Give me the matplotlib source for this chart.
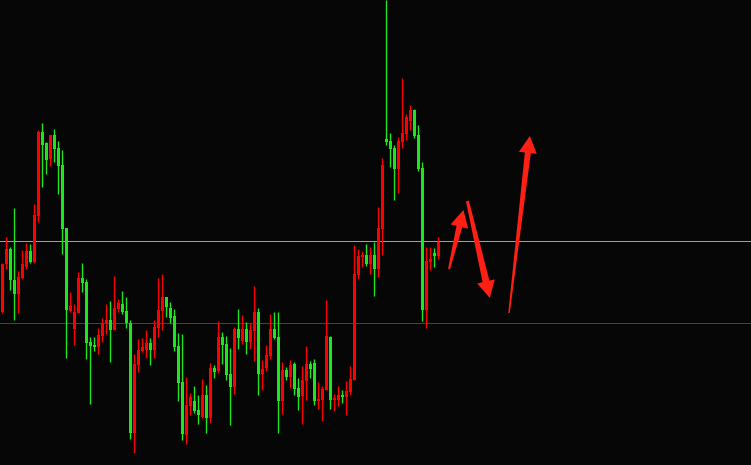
import numpy as np
import matplotlib
matplotlib.use('Agg')
import matplotlib.pyplot as plt
from matplotlib.patches import Polygon

# OHLC (arbitrary price units)
opens = [153, 201, 216, 185, 171, 187, 198, 214, 203, 249, 333, 322, 306, 330, 317, 300, 237, 154, 136, 152,
         187, 183, 123, 120, 118, 129, 141, 145, 135, 156, 161, 154, 142, 32, 100, 114, 115, 122, 115, 137,
         154, 168, 157, 149, 119, 83, 30, 59, 64, 55, 48, 70, 47, 97, 94, 128, 121, 91, 78, 136,
         124, 136, 123, 134, 153, 91, 97, 109, 136, 128, 64, 95, 88, 101, 77, 69, 84, 101, 102, 64,
         65, 75, 128, 65, 65, 70, 68, 73, 85, 190, 208, 210, 201, 210, 196, 236, 326, 324, 317, 296,
         323, 331, 344, 355, 330, 297, 155, 203, 212, 209]
highs = [202, 228, 218, 257, 194, 215, 222, 221, 261, 335, 342, 323, 330, 336, 324, 315, 237, 173, 161, 193,
         202, 186, 128, 128, 137, 147, 161, 164, 189, 166, 174, 168, 145, 111, 126, 127, 135, 127, 145, 187,
         191, 168, 163, 156, 132, 131, 88, 72, 79, 70, 86, 80, 102, 100, 144, 133, 129, 117, 138, 156,
         150, 143, 142, 179, 157, 105, 120, 151, 153, 153, 103, 98, 105, 103, 87, 99, 119, 104, 106, 83,
         79, 165, 129, 71, 79, 75, 84, 99, 220, 216, 214, 221, 218, 223, 258, 307, 465, 332, 320, 328,
         387, 351, 360, 356, 340, 303, 218, 218, 217, 228]
lows = [152, 196, 175, 145, 152, 186, 196, 202, 202, 243, 278, 291, 299, 303, 271, 211, 107, 153, 120, 152,
        173, 106, 61, 114, 111, 123, 131, 103, 135, 153, 151, 137, 26, 12, 93, 113, 107, 100, 107, 128,
        135, 148, 142, 114, 64, 25, 21, 50, 52, 41, 47, 32, 42, 87, 92, 101, 85, 40, 71, 116,
        121, 111, 116, 104, 70, 75, 94, 106, 126, 32, 51, 85, 77, 70, 55, 41, 65, 87, 60, 56,
        44, 75, 56, 54, 59, 62, 50, 70, 85, 186, 198, 199, 191, 169, 188, 210, 320, 298, 265, 272,
        317, 325, 335, 327, 294, 144, 137, 195, 198, 206]
closes = [201, 216, 185, 171, 188, 201, 214, 203, 250, 333, 320, 305, 330, 316, 299, 236, 155, 159, 153, 187,
          182, 122, 119, 118, 130, 142, 145, 135, 157, 162, 153, 142, 32, 101, 115, 118, 122, 115, 138, 155,
          168, 158, 147, 118, 82, 31, 60, 68, 54, 50, 70, 47, 97, 93, 128, 120, 90, 78, 136, 127,
          136, 123, 135, 153, 91, 96, 110, 136, 127, 64, 95, 88, 100, 76, 68, 85, 101, 96, 64, 66,
          76, 129, 65, 67, 70, 68, 74, 86, 191, 209, 210, 201, 210, 196, 237, 300, 323, 316, 296, 324,
          332, 348, 355, 329, 296, 155, 204, 206, 209, 223]

# horizontal levels
level_gray = 224
level_red = 142

# hand-drawn arrows: tail -> tip, in (bar index, price)
arrow_tail_x = [111.7, 116.3, 126.7]
arrow_tail_y = [196, 264, 152]
arrow_tip_x = [115.3, 121.9, 131.9]
arrow_tip_y = [255, 167, 329]
arrow_tail_w = [2, 3, 1.5]
arrow_neck_w = [6, 7, 6]

up_col = '#ff0000'
down_col = '#1ee61e'
bg = '#060606'

fig = plt.figure(figsize=(7.51, 4.65), dpi=100, facecolor=bg)
ax = fig.add_axes([0, 0, 1, 1])
ax.set_facecolor(bg)
ax.set_xlim(-0.575, 187.2)
ax.set_ylim(0, 465)
ax.axis('off')

# 1 pixel wide, no smoothing
ax.axhline(level_gray, color='#9aa0a8', lw=0.72, antialiased=False, zorder=1)
ax.axhline(level_red, color='#e00000', lw=0.72, antialiased=False, zorder=1)

o = np.array(opens)
h = np.array(highs)
l = np.array(lows)
c = np.array(closes)
x = np.arange(len(o))
cols = np.where(c >= o, up_col, down_col)

ax.vlines(x, l, h, colors=cols, lw=1, zorder=2)
body = np.maximum(np.abs(c - o), 1)
ax.bar(x, body, bottom=np.minimum(o, c), width=0.75, color=cols, lw=0, zorder=3)


def arrow_poly(tail, tip, w_tail, w_neck, head_w=18, head_len=17):
    # build the polygon in pixels, then go back to data coords
    t = ax.transData.transform(tail)
    p = ax.transData.transform(tip)
    d = p - t
    u = d / np.hypot(*d)
    n = np.array([-u[1], u[0]])
    neck = p - u * head_len
    pts = [t + n * w_tail / 2, neck + n * w_neck / 2, neck + n * head_w / 2, p,
           neck - n * head_w / 2, neck - n * w_neck / 2, t - n * w_tail / 2]
    return ax.transData.inverted().transform(pts)


for i in range(len(arrow_tail_x)):
    pts = arrow_poly((arrow_tail_x[i], arrow_tail_y[i]), (arrow_tip_x[i], arrow_tip_y[i]),
                     arrow_tail_w[i], arrow_neck_w[i])
    ax.add_patch(Polygon(pts, closed=True, color='#ff2015', lw=0, zorder=4))

fig.savefig('out.png', dpi=100, facecolor=bg)
